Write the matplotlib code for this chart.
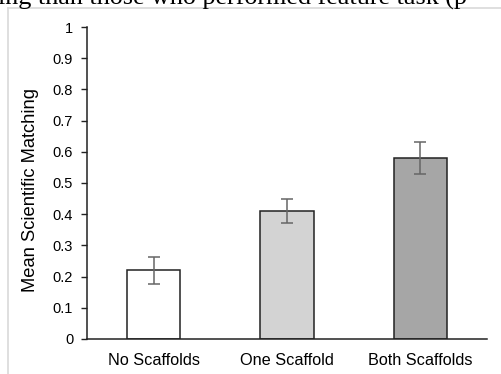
import matplotlib.pyplot as plt
from matplotlib.lines import Line2D

# values
categories = ['No Scaffolds', 'One Scaffold', 'Both Scaffolds']
means = [0.22, 0.41, 0.58]
errors = [0.043, 0.038, 0.05]
bar_colors = ['#ffffff', '#d3d3d3', '#a6a6a6']
y_ticks = [0, 0.1, 0.2, 0.3, 0.4, 0.5, 0.6, 0.7, 0.8, 0.9, 1]
y_tick_labels = ['0', '0.1', '0.2', '0.3', '0.4', '0.5', '0.6', '0.7', '0.8', '0.9', '1']

plt.rcParams['font.family'] = ['Liberation Sans', 'DejaVu Sans']

fig = plt.figure(figsize=(5.01, 3.74), dpi=100)
ax = fig.add_axes([0.1737, 0.0936, 0.7985, 0.8342])

# bars with error bars
x = range(len(categories))
ax.bar(x, means, width=0.4, color=bar_colors, edgecolor='#222222', linewidth=1.1, zorder=2)
ax.errorbar(x, means, yerr=errors, fmt='none', ecolor='#666666', elinewidth=1.1,
            capsize=4, capthick=1.1, zorder=3)

ax.set_xlim(-0.5, 2.5)
ax.set_ylim(0, 1)
ax.set_yticks(y_ticks)
ax.set_yticklabels(y_tick_labels)
ax.set_xticks(list(x))
ax.set_xticklabels(categories)
ax.tick_params(axis='x', length=0, pad=10, labelsize=11.7)
ax.tick_params(axis='y', length=4, width=1, direction='out', pad=6, labelsize=10.5, color='#222222')
ax.set_ylabel('Mean Scientific Matching', fontsize=13.2)
ax.yaxis.set_label_coords(-0.12, 0.478)

for side in ['top', 'right']:
    ax.spines[side].set_visible(False)
for side in ['left', 'bottom']:
    ax.spines[side].set_color('#222222')
    ax.spines[side].set_linewidth(1.1)

# light grey chart-area border (cut off at right and bottom)
W, H = 501, 374
fig.add_artist(Line2D([8 / W, 8 / W], [0, 1 - 8 / H], color='#d9d9d9', lw=1.2))
fig.add_artist(Line2D([8 / W, 1], [1 - 8 / H, 1 - 8 / H], color='#d9d9d9', lw=1.2))

# clipped line of document text above the chart
fig.text(-0.004, 1 - 4.5 / H, 'ing than those who performed feature task (p',
         family=['Liberation Serif', 'DejaVu Serif'], fontsize=18.8, va='baseline', ha='left')

fig.savefig('out.png', dpi=100)
